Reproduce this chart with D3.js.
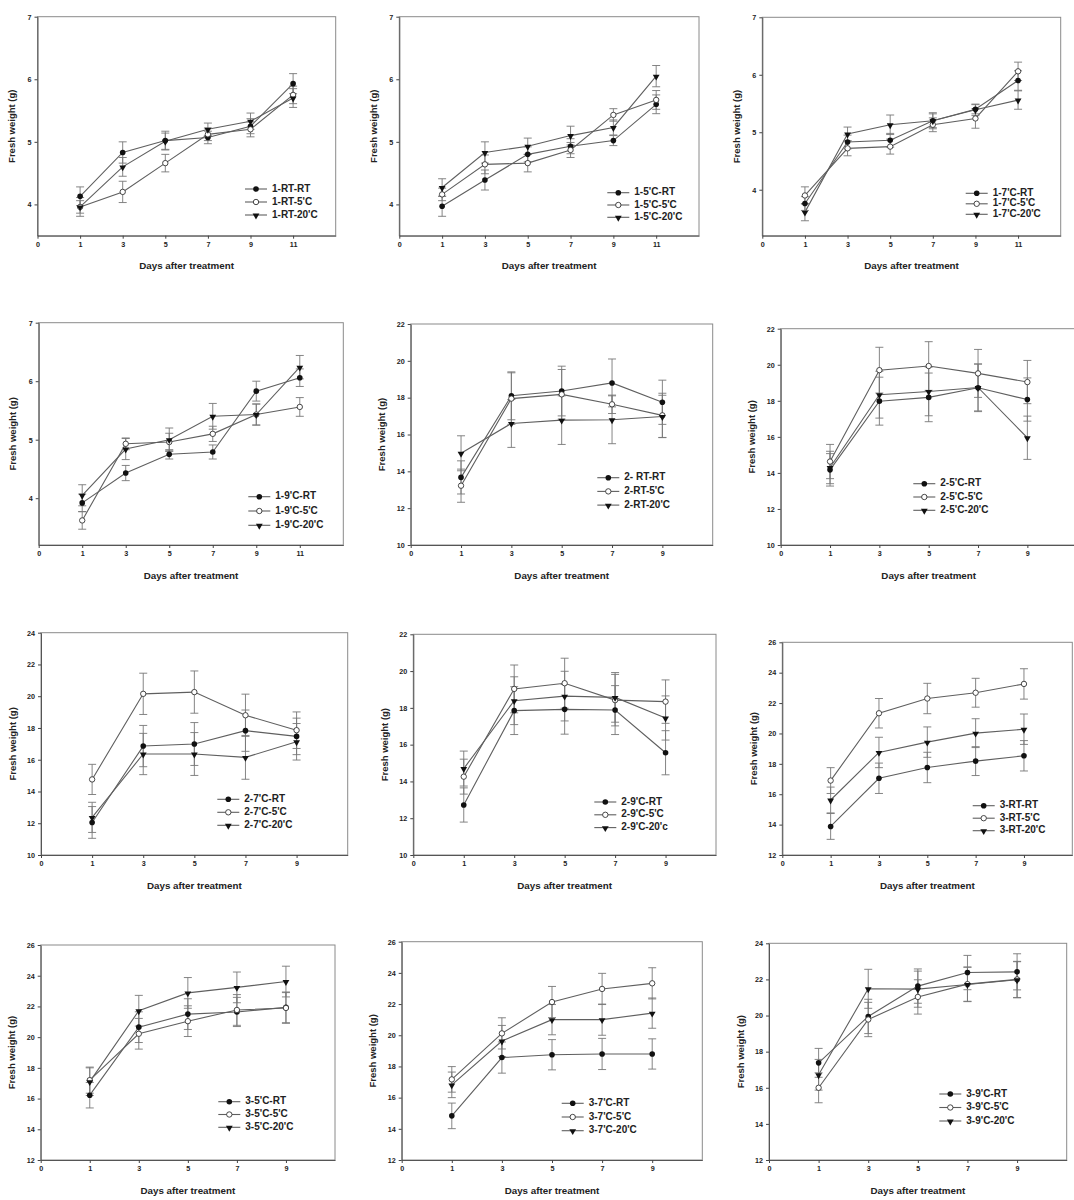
<!DOCTYPE html>
<html><head><meta charset="utf-8">
<script src="https://cdn.jsdelivr.net/npm/d3@7"></script>
<style>body{margin:0;background:#fff}svg{display:block}</style>
</head><body><svg id="c" width="1074" height="1200"></svg>
<script>
// ---------- DATA ----------
const ticks11 = [0, 1, 3, 5, 7, 9, 11];
const ticks9 = [0, 1, 3, 5, 7, 9];
const days11 = [1, 3, 5, 7, 9, 11];
const days9 = [1, 3, 5, 7, 9];
const yTicksA = [4, 5, 6, 7];
const yTicks22 = [10, 12, 14, 16, 18, 20, 22];
const yTicks24 = [10, 12, 14, 16, 18, 20, 22, 24];
const yTicks26 = [12, 14, 16, 18, 20, 22, 24, 26];
const yTicks12to24 = [12, 14, 16, 18, 20, 22, 24];
const xTitle = "Days after treatment";
const yTitle = "Fresh weight (g)";

const p1Names = ["1-RT-RT", "1-RT-5'C", "1-RT-20'C"];
const p1Mean = [[4.13, 4.83, 5.02, 5.07, 5.25, 5.93], [3.96, 4.20, 4.66, 5.12, 5.20, 5.75], [3.96, 4.60, 5.01, 5.20, 5.33, 5.70]];
const p1Err = [[0.15, 0.17, 0.15, 0.10, 0.12, 0.16], [0.10, 0.17, 0.14, 0.10, 0.12, 0.14], [0.15, 0.15, 0.13, 0.10, 0.13, 0.15]];

const p2Names = ["1-5'C-RT", "1-5'C-5'C", "1-5'C-20'C"];
const p2Mean = [[3.97, 4.39, 4.80, 4.93, 5.02, 5.60], [4.16, 4.64, 4.66, 4.87, 5.43, 5.67], [4.27, 4.83, 4.93, 5.10, 5.23, 6.05]];
const p2Err = [[0.16, 0.16, 0.12, 0.12, 0.08, 0.15], [0.10, 0.15, 0.14, 0.12, 0.10, 0.15], [0.14, 0.17, 0.13, 0.15, 0.12, 0.17]];

const p3Names = ["1-7'C-RT", "1-7'C-5'C", "1-7'C-20'C"];
const p3Mean = [[3.76, 4.83, 4.86, 5.20, 5.40, 5.90], [3.90, 4.72, 4.75, 5.13, 5.24, 6.06], [3.61, 4.97, 5.13, 5.20, 5.39, 5.56]];
const p3Err = [[0.12, 0.12, 0.12, 0.12, 0.08, 0.17], [0.15, 0.13, 0.13, 0.12, 0.17, 0.16], [0.15, 0.12, 0.17, 0.14, 0.10, 0.16]];

const p4Names = ["1-9'C-RT", "1-9'C-5'C", "1-9'C-20'C"];
const p4Mean = [[3.92, 4.43, 4.75, 4.79, 5.83, 6.06], [3.62, 4.93, 4.96, 5.10, 5.43, 5.56], [4.05, 4.84, 5.00, 5.40, 5.43, 6.24]];
const p4Err = [[0.15, 0.13, 0.08, 0.12, 0.17, 0.15], [0.15, 0.10, 0.15, 0.13, 0.18, 0.16], [0.18, 0.18, 0.20, 0.22, 0.18, 0.20]];

const p5Names = ["2- RT-RT", "2-RT-5'C", "2-RT-20'C"];
const p5Mean = [[13.67, 18.10, 18.36, 18.80, 17.75], [13.22, 17.95, 18.18, 17.64, 17.04], [14.98, 16.60, 16.78, 16.80, 16.98]];
const p5Err = [[0.90, 1.30, 1.35, 1.30, 1.20], [0.90, 1.40, 1.35, 0.50, 1.20], [0.95, 1.30, 1.32, 1.30, 1.15]];

const p6Names = ["2-5'C-RT", "2-5'C-5'C", "2-5'C-20'C"];
const p6Mean = [[14.17, 17.98, 18.19, 18.72, 18.07], [14.63, 19.70, 19.93, 19.52, 19.04], [14.30, 18.34, 18.52, 18.74, 15.95]];
const p6Err = [[0.90, 1.33, 1.35, 1.32, 1.20], [0.95, 1.27, 1.35, 1.33, 1.20], [0.90, 1.30, 1.35, 1.30, 1.20]];

const p7Names = ["2-7'C-RT", "2-7'C-5'C", "2-7'C-20'C"];
const p7Mean = [[12.05, 16.86, 16.99, 17.83, 17.47], [14.76, 20.15, 20.26, 18.80, 17.86], [12.37, 16.36, 16.36, 16.15, 17.13]];
const p7Err = [[1.00, 1.30, 1.35, 1.30, 1.15], [0.95, 1.30, 1.33, 1.33, 1.15], [0.95, 1.30, 1.35, 1.38, 1.15]];

const p8Names = ["2-9'C-RT", "2-9'C-5'C", "2-9'C-20'c"];
const p8Mean = [[12.72, 17.85, 17.92, 17.88, 15.56], [14.26, 19.03, 19.34, 18.42, 18.34], [14.70, 18.39, 18.64, 18.57, 17.45]];
const p8Err = [[0.93, 1.30, 1.35, 1.33, 1.20], [0.95, 1.30, 1.36, 1.40, 1.18], [0.95, 1.30, 1.35, 1.35, 1.20]];

const p9Names = ["3-RT-RT", "3-RT-5'C", "3-RT-20'C"];
const p9Mean = [[13.88, 17.05, 17.76, 18.18, 18.53], [16.90, 21.33, 22.30, 22.68, 23.26], [15.62, 18.75, 19.43, 20.02, 20.28]];
const p9Err = [[0.85, 1.00, 1.00, 0.95, 1.00], [0.85, 0.97, 1.00, 0.95, 1.00], [0.85, 1.00, 1.00, 0.95, 1.00]];

const p10Names = ["3-5'C-RT", "3-5'C-5'C", "3-5'C-20'C"];
const p10Mean = [[16.22, 20.65, 21.50, 21.64, 21.94], [17.20, 20.22, 21.04, 21.77, 21.90], [17.10, 21.72, 22.88, 23.24, 23.62]];
const p10Err = [[0.83, 1.00, 1.00, 0.95, 1.00], [0.85, 1.00, 1.00, 1.00, 1.00], [0.90, 1.00, 1.00, 1.00, 1.00]];

const p11Names = ["3-7'C-RT", "3-7'C-5'C", "3-7'C-20'C"];
const p11Mean = [[14.83, 18.57, 18.75, 18.80, 18.80], [17.17, 20.12, 22.13, 22.97, 23.33], [16.82, 19.63, 21.00, 21.00, 21.42]];
const p11Err = [[0.82, 1.00, 0.97, 1.00, 0.97], [0.82, 1.00, 1.00, 1.00, 1.00], [0.82, 1.00, 0.97, 1.00, 0.97]];

const p12Names = ["3-9'C-RT", "3-9'C-5'C", "3-9'C-20'C"];
const p12Mean = [[17.38, 19.95, 21.63, 22.38, 22.42], [16.00, 19.78, 21.03, 21.74, 22.00], [16.72, 21.48, 21.46, 21.72, 21.98]];
const p12Err = [[0.80, 0.95, 0.95, 0.95, 1.00], [0.83, 0.95, 0.95, 0.95, 1.00], [0.85, 1.08, 1.00, 0.95, 1.00]];

// ---------- PANEL ASSEMBLY ----------
const panels = [
  {names: p1Names, mean: p1Mean, err: p1Err, days: days11, ticks: ticks11, yTicks: yTicksA, yDom: [3.5, 7]},
  {names: p2Names, mean: p2Mean, err: p2Err, days: days11, ticks: ticks11, yTicks: yTicksA, yDom: [3.5, 7]},
  {names: p3Names, mean: p3Mean, err: p3Err, days: days11, ticks: ticks11, yTicks: yTicksA, yDom: [3.2, 7]},
  {names: p4Names, mean: p4Mean, err: p4Err, days: days11, ticks: ticks11, yTicks: yTicksA, yDom: [3.2, 7]},
  {names: p5Names, mean: p5Mean, err: p5Err, days: days9, ticks: ticks9, yTicks: yTicks22, yDom: [10, 22]},
  {names: p6Names, mean: p6Mean, err: p6Err, days: days9, ticks: ticks9, yTicks: yTicks22, yDom: [10, 22]},
  {names: p7Names, mean: p7Mean, err: p7Err, days: days9, ticks: ticks9, yTicks: yTicks24, yDom: [10, 24]},
  {names: p8Names, mean: p8Mean, err: p8Err, days: days9, ticks: ticks9, yTicks: yTicks22, yDom: [10, 22]},
  {names: p9Names, mean: p9Mean, err: p9Err, days: days9, ticks: ticks9, yTicks: yTicks26, yDom: [12, 26]},
  {names: p10Names, mean: p10Mean, err: p10Err, days: days9, ticks: ticks9, yTicks: yTicks26, yDom: [12, 26]},
  {names: p11Names, mean: p11Mean, err: p11Err, days: days9, ticks: ticks9, yTicks: yTicks26, yDom: [12, 26]},
  {names: p12Names, mean: p12Mean, err: p12Err, days: days9, ticks: ticks9, yTicks: yTicks12to24, yDom: [12, 24]}
];

// layout (pixel boxes, legend anchors)
const layout = [
  {l: 37.5, t: 16.7, r: 335.7, b: 235.7, lx: 245, ly: 189, lg: 13},
  {l: 399.3, t: 16.7, r: 699, b: 235.7, lx: 607.3, ly: 192.7, lg: 12.3},
  {l: 762.3, t: 17.3, r: 1060.7, b: 235.7, lx: 965.7, ly: 193.3, lg: 10.5},
  {l: 38.7, t: 322.7, r: 343.3, b: 545, lx: 248.3, ly: 496.7, lg: 14.3},
  {l: 410.7, t: 324, r: 712.7, b: 545, lx: 597.3, ly: 477.7, lg: 13.7},
  {l: 780.7, t: 328.7, r: 1076.7, b: 545, lx: 913.3, ly: 483.7, lg: 13.3},
  {l: 41, t: 632.7, r: 347.7, b: 855, lx: 217.3, ly: 799.3, lg: 13},
  {l: 413.3, t: 634.3, r: 716, b: 855, lx: 594.3, ly: 802, lg: 12.8},
  {l: 782.3, t: 642.3, r: 1072.3, b: 855, lx: 972.7, ly: 805.7, lg: 12.5},
  {l: 40.7, t: 945, r: 335, b: 1160, lx: 218.3, ly: 1101.7, lg: 12.8},
  {l: 401.7, t: 941.7, r: 702.3, b: 1160, lx: 561.7, ly: 1103.3, lg: 13.7},
  {l: 769, t: 943.3, r: 1066.7, b: 1160, lx: 939.3, ly: 1094, lg: 13.5}
];

// ---------- DRAW ----------
const FONT = "'Liberation Sans', Arial, Helvetica, sans-serif";
const svg = d3.select("#c");
svg.append("rect").attr("width", 1074).attr("height", 1200).attr("fill", "#fff");

const lineCol = "#5f5f5f", errCol = "#777", frameCol = "#8a8a8a";
const triPath = d3.symbol().type(d3.symbolTriangle).size(20)();

function marker(g, kind, x, y) {
  if (kind === 0) {
    g.append("circle").attr("cx", x).attr("cy", y).attr("r", 2.8).attr("fill", "#111");
  } else if (kind === 1) {
    g.append("circle").attr("cx", x).attr("cy", y).attr("r", 2.7).attr("fill", "#fff").attr("stroke", "#333").attr("stroke-width", 0.9);
  } else {
    g.append("path").attr("d", triPath).attr("transform", `translate(${x},${y + 0.5}) rotate(180)`).attr("fill", "#111");
  }
}

panels.forEach((p, i) => {
  const L = layout[i];
  const g = svg.append("g");
  const x = d3.scalePoint().domain(p.ticks.concat(["end"])).range([L.l, L.r]).padding(0);
  const y = d3.scaleLinear().domain(p.yDom).range([L.b, L.t]);

  // frame
  g.append("rect").attr("x", L.l).attr("y", L.t).attr("width", L.r - L.l).attr("height", L.b - L.t)
    .attr("fill", "none").attr("stroke", frameCol).attr("stroke-width", 1);

  // axes
  const ax = g.append("g").attr("transform", `translate(0,${L.b})`)
    .call(d3.axisBottom(x).tickValues(p.ticks).tickSize(3).tickPadding(3).tickSizeOuter(0));
  const ay = g.append("g").attr("transform", `translate(${L.l},0)`)
    .call(d3.axisLeft(y).tickValues(p.yTicks).tickFormat(d3.format("d")).tickSize(3).tickPadding(3).tickSizeOuter(0));
  [ax, ay].forEach(a => {
    a.select(".domain").attr("stroke", "#555");
    a.selectAll(".tick line").attr("stroke", "#444");
    a.selectAll(".tick text").attr("font-family", FONT).attr("font-weight", "bold")
      .attr("font-size", 7.2).attr("fill", "#222");
  });

  // titles
  g.append("text").attr("x", (L.l + L.r) / 2).attr("y", L.b + 31).attr("text-anchor", "middle")
    .attr("dominant-baseline", "middle").attr("font-family", FONT).attr("font-weight", "bold")
    .attr("font-size", 9.8).attr("fill", "#222").text(xTitle);
  const yOff = d3.max(p.yTicks) >= 10 ? 28 : 25;
  g.append("text").attr("transform", `translate(${L.l - yOff},${(L.t + L.b) / 2}) rotate(-90)`)
    .attr("text-anchor", "middle").attr("dominant-baseline", "middle").attr("font-family", FONT)
    .attr("font-weight", "bold").attr("font-size", 9.5).attr("fill", "#222").text(yTitle);

  // series lines
  const line = d3.line().x(d => x(d[0])).y(d => y(d[1]));
  p.mean.forEach((vals, s) => {
    const pts = p.days.map((d, k) => [d, vals[k]]);
    g.append("path").attr("d", line(pts)).attr("fill", "none").attr("stroke", lineCol).attr("stroke-width", 1.1);
  });
  // error bars
  p.mean.forEach((vals, s) => {
    p.days.forEach((d, k) => {
      const cx = x(d), e = p.err[s][k];
      const y1 = y(vals[k] + e), y2 = y(vals[k] - e);
      g.append("line").attr("x1", cx).attr("x2", cx).attr("y1", y1).attr("y2", y2).attr("stroke", errCol).attr("stroke-width", 0.9);
      [y1, y2].forEach(yy => g.append("line").attr("x1", cx - 4).attr("x2", cx + 4).attr("y1", yy).attr("y2", yy)
        .attr("stroke", errCol).attr("stroke-width", 0.9));
    });
  });
  // markers
  p.mean.forEach((vals, s) => {
    p.days.forEach((d, k) => marker(g, s, x(d), y(vals[k])));
  });

  // legend
  p.names.forEach((nm, s) => {
    const yy = L.ly + s * L.lg;
    g.append("line").attr("x1", L.lx).attr("x2", L.lx + 22).attr("y1", yy).attr("y2", yy)
      .attr("stroke", lineCol).attr("stroke-width", 1.1);
    marker(g, s, L.lx + 11, yy);
    g.append("text").attr("x", L.lx + 27).attr("y", yy).attr("dominant-baseline", "middle")
      .attr("font-family", FONT).attr("font-weight", "bold").attr("font-size", 10).attr("fill", "#222").text(nm);
  });
});
</script>
</body></html>
